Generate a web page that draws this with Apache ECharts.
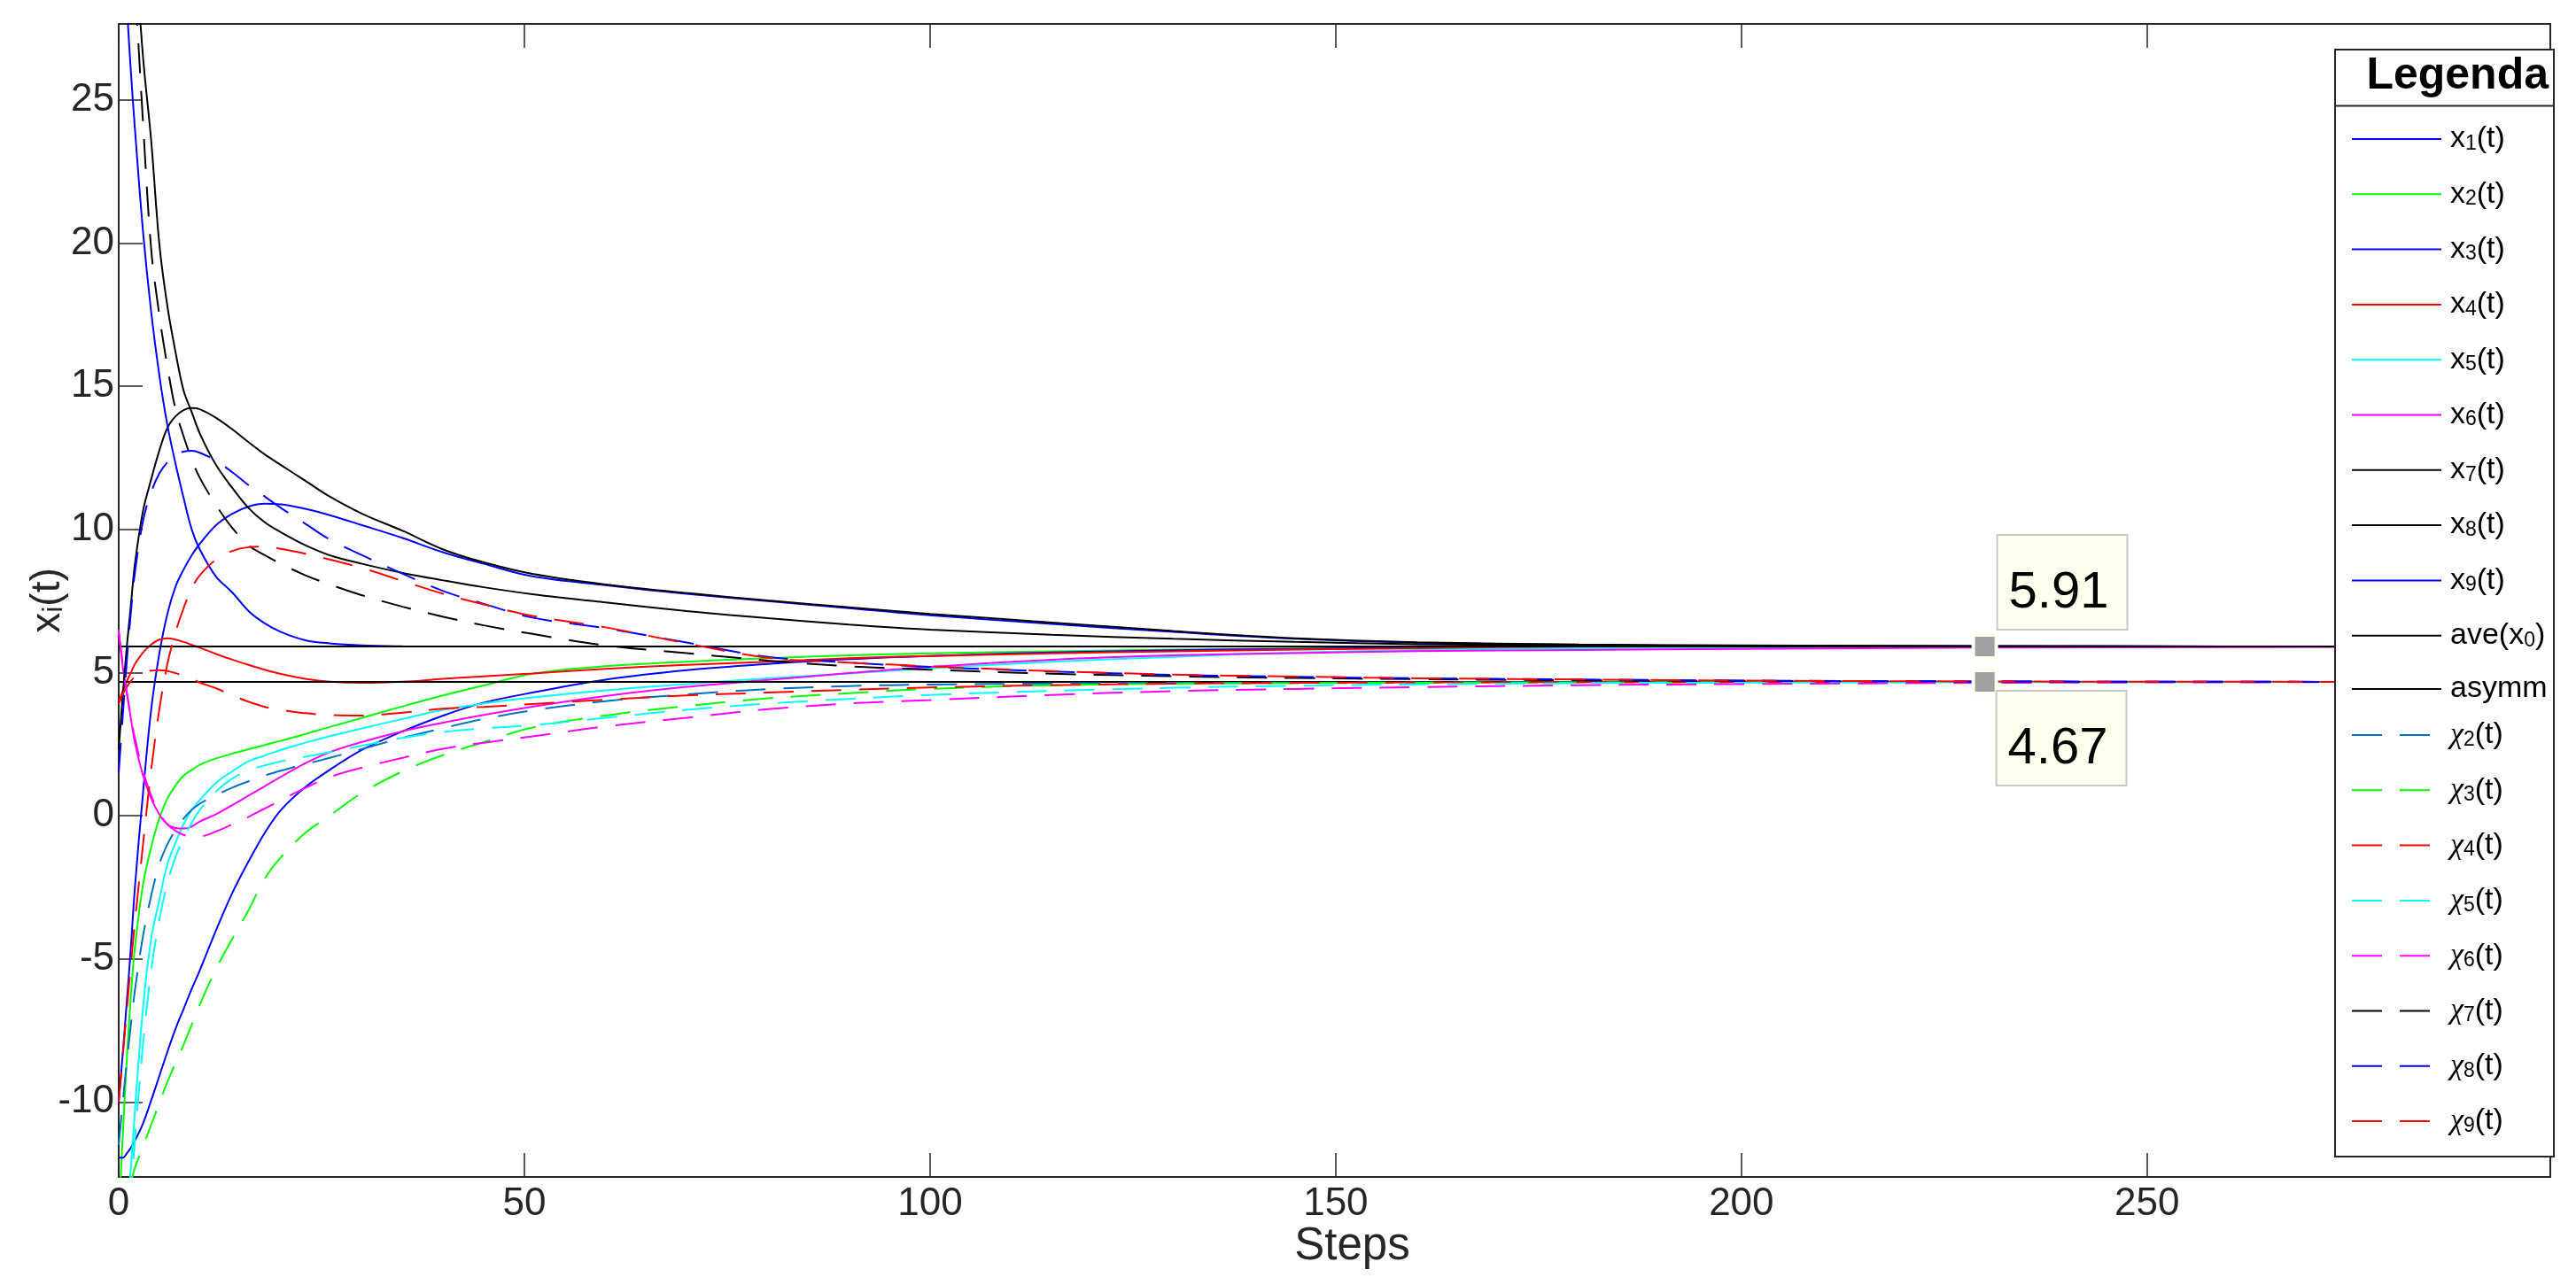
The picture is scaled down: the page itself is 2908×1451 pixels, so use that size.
<!DOCTYPE html>
<html>
<head>
<meta charset="utf-8">
<title>x_i(t) vs Steps</title>
<script src="https://cdn.jsdelivr.net/npm/echarts@6/dist/echarts.min.js"></script>
<style>
  html, body { margin: 0; padding: 0; background: #fff; }
  #chart { width: 2908px; height: 1451px; }
</style>
</head>
<body>
<div id="chart"></div>
<script>
// axis ranges
const xMin = 0, xMax = 299.7, xStep = 50;
const yMin = -12.62, yMax = 27.66, yStep = 5;

// sample steps shared by every trajectory
const steps = [0, 0.5, 1, 1.5, 2, 3, 4, 5, 6, 7, 8, 9, 10, 12, 14, 16, 18, 20, 23, 26, 30, 35, 40, 45, 51,
  60, 70, 80, 90, 100, 115, 130, 145, 160, 180, 200, 230, 260, 299];

// solid trajectories x1..x9 (converge on ave(x0))
const x1 = [-10.0, -8.3, -6.5, -4.6, -2.5, 0.8, 3.7, 5.65, 7.05, 8.0, 8.6, 9.1, 9.5, 10.15, 10.55, 10.8, 10.9, 10.88, 10.72, 10.5, 10.15, 9.7, 9.2, 8.8, 8.36,
  8.05, 7.75, 7.5, 7.25, 7.0, 6.7, 6.42, 6.18, 6.04, 5.97, 5.94, 5.92, 5.915, 5.91];
const x2 = [-14, -11.2, -8.5, -6.3, -4.6, -2.4, -1.1, -0.1, 0.6, 1.05, 1.4, 1.6, 1.78, 2.0, 2.17, 2.32, 2.47, 2.62, 2.85, 3.1, 3.42, 3.82, 4.2, 4.55, 4.96,
  5.22, 5.38, 5.5, 5.6, 5.67, 5.74, 5.8, 5.84, 5.87, 5.89, 5.9, 5.91, 5.91, 5.91];
const x3 = [-11.95, -11.95, -11.8, -11.6, -11.35, -10.75, -9.95, -9.1, -8.25, -7.45, -6.75, -6.05, -5.4, -4.0, -2.7, -1.6, -0.6, 0.2, 1.0, 1.6, 2.3, 2.95, 3.5, 3.95, 4.3,
  4.75, 5.08, 5.3, 5.47, 5.58, 5.7, 5.78, 5.83, 5.86, 5.89, 5.9, 5.91, 5.91, 5.91];
const x4 = [4.0, 4.35, 4.7, 5.0, 5.3, 5.7, 5.98, 6.15, 6.2, 6.15, 6.07, 5.97, 5.87, 5.65, 5.45, 5.27, 5.1, 4.95, 4.78, 4.68, 4.64, 4.68, 4.78, 4.87, 4.97,
  5.13, 5.27, 5.38, 5.5, 5.58, 5.67, 5.74, 5.8, 5.84, 5.87, 5.89, 5.9, 5.91, 5.91];
const x5 = [-20, -17, -14, -12.3, -10.3, -6.7, -4.3, -2.95, -1.7, -0.95, -0.3, 0.2, 0.55, 1.15, 1.55, 1.9, 2.1, 2.3, 2.55, 2.78, 3.05, 3.38, 3.7, 3.92, 4.13,
  4.38, 4.6, 4.8, 4.97, 5.15, 5.38, 5.55, 5.7, 5.79, 5.85, 5.88, 5.9, 5.91, 5.91];
const x6 = [6.5, 5.2, 4.3, 3.4, 2.55, 1.4, 0.6, 0.05, -0.3, -0.43, -0.45, -0.38, -0.2, 0.05, 0.37, 0.7, 1.03, 1.36, 1.83, 2.22, 2.58, 2.95, 3.25, 3.52, 3.81,
  4.18, 4.5, 4.74, 4.98, 5.2, 5.45, 5.6, 5.68, 5.75, 5.79, 5.83, 5.87, 5.89, 5.9];
const x7 = [2.3, 4.2, 5.9, 7.35, 8.8, 10.65, 11.75, 12.75, 13.55, 13.95, 14.17, 14.24, 14.2, 13.9, 13.5, 13.05, 12.62, 12.25, 11.7, 11.15, 10.55, 9.95, 9.3, 8.85, 8.45,
  8.08, 7.78, 7.52, 7.28, 7.05, 6.75, 6.45, 6.2, 6.06, 5.98, 5.95, 5.925, 5.915, 5.91];
const x8 = [50, 42, 37, 33, 30.5, 26.5, 23.6, 20.0, 17.8, 16.2, 14.85, 14.1, 13.35, 12.25, 11.45, 10.75, 10.25, 9.9, 9.45, 9.1, 8.8, 8.48, 8.22, 7.98, 7.74,
  7.45, 7.15, 6.9, 6.68, 6.5, 6.32, 6.18, 6.07, 5.99, 5.95, 5.93, 5.92, 5.915, 5.91];
const x9 = [38, 32, 28.4, 26.0, 24.0, 20.4, 17.6, 15.4, 13.65, 12.3, 11.1, 10.0, 9.3, 8.35, 7.8, 7.15, 6.72, 6.42, 6.13, 6.02, 5.95, 5.92, 5.91, 5.91, 5.91,
  5.91, 5.91, 5.91, 5.91, 5.91, 5.91, 5.91, 5.91, 5.91, 5.91, 5.91, 5.91, 5.91, 5.91];

// dashed trajectories chi2..chi9 (converge on asymm)
const chi2 = [-11.5, -10, -8.6, -7.3, -6.1, -4.2, -2.8, -1.7, -1.0, -0.5, -0.1, 0.2, 0.42, 0.72, 0.98, 1.2, 1.4, 1.57, 1.8, 2.02, 2.33, 2.72, 3.06, 3.38, 3.68,
  4.0, 4.24, 4.42, 4.53, 4.58, 4.62, 4.64, 4.65, 4.66, 4.665, 4.67, 4.67, 4.67, 4.67];
const chi3 = [-14.5, -14, -13.4, -12.8, -12.3, -11.55, -10.8, -10.05, -9.3, -8.65, -8.0, -7.3, -6.6, -5.35, -4.3, -3.3, -2.2, -1.45, -0.6, 0.0, 0.8, 1.55, 2.12, 2.57, 3.08,
  3.5, 3.83, 4.1, 4.28, 4.43, 4.56, 4.61, 4.63, 4.645, 4.655, 4.665, 4.67, 4.67, 4.67];
const chi4 = [3.9, 4.25, 4.5, 4.7, 4.85, 5.0, 5.07, 5.08, 5.05, 4.98, 4.9, 4.8, 4.65, 4.45, 4.2, 3.98, 3.8, 3.7, 3.58, 3.52, 3.5, 3.6, 3.74, 3.8, 3.9,
  4.05, 4.2, 4.3, 4.4, 4.48, 4.56, 4.61, 4.64, 4.655, 4.665, 4.67, 4.67, 4.67, 4.67];
const chi5 = [-22, -19, -16, -13.5, -11.3, -8.0, -5.4, -3.65, -2.35, -1.45, -0.8, -0.25, 0.2, 0.85, 1.3, 1.58, 1.76, 1.9, 2.06, 2.22, 2.45, 2.72, 2.92, 3.05, 3.16,
  3.42, 3.7, 3.92, 4.08, 4.22, 4.36, 4.47, 4.54, 4.59, 4.63, 4.65, 4.665, 4.67, 4.67];
const chi6 = [6.4, 5.3, 4.3, 3.45, 2.7, 1.55, 0.7, 0.1, -0.3, -0.53, -0.67, -0.72, -0.72, -0.55, -0.3, -0.04, 0.25, 0.54, 0.97, 1.35, 1.68, 2.02, 2.34, 2.55, 2.77,
  3.12, 3.42, 3.72, 3.92, 4.04, 4.22, 4.35, 4.43, 4.49, 4.56, 4.6, 4.64, 4.66, 4.67];
const chi7 = [42, 37, 33.5, 30.8, 29.0, 24.2, 19.8, 17.5, 15.7, 14.2, 13.25, 12.45, 11.8, 10.85, 10.05, 9.45, 9.1, 8.8, 8.4, 8.08, 7.7, 7.3, 6.95, 6.65, 6.35,
  5.95, 5.68, 5.42, 5.22, 5.1, 4.96, 4.87, 4.81, 4.77, 4.73, 4.71, 4.69, 4.68, 4.67];
const chi8 = [1.5, 3.5, 5.4, 7.1, 8.5, 10.3, 11.3, 11.95, 12.35, 12.6, 12.72, 12.75, 12.68, 12.4, 12.0, 11.55, 11.15, 10.75, 10.2, 9.65, 9.1, 8.45, 7.85, 7.4, 6.92,
  6.55, 6.05, 5.55, 5.35, 5.2, 5.04, 4.92, 4.85, 4.8, 4.76, 4.72, 4.69, 4.68, 4.67];
const chi9 = [-10, -8.4, -6.8, -5.2, -3.7, -1.0, 1.6, 3.7, 5.3, 6.4, 7.25, 7.95, 8.4, 8.95, 9.25, 9.38, 9.4, 9.32, 9.15, 8.95, 8.65, 8.2, 7.75, 7.38, 6.98,
  6.58, 6.02, 5.52, 5.35, 5.22, 5.05, 4.93, 4.86, 4.8, 4.76, 4.72, 4.69, 4.68, 4.67];

// the two limits and the data tips on them
const aveValue = 5.91;
const asymmValue = 4.67;
const tipStep = 230;

const FONT = '"Liberation Sans", Arial, Helvetica, sans-serif';
const AXIS = '#262626';
const DASH = [34, 20];

const defs = [
  { name: 'x1(t)', values: x1, color: '#0000ff' },
  { name: 'x2(t)', values: x2, color: '#00ff00' },
  { name: 'x3(t)', values: x3, color: '#0000ff' },
  { name: 'x4(t)', values: x4, color: '#ff0000' },
  { name: 'x5(t)', values: x5, color: '#00ffff' },
  { name: 'x6(t)', values: x6, color: '#ff00ff' },
  { name: 'x7(t)', values: x7, color: '#000000' },
  { name: 'x8(t)', values: x8, color: '#000000' },
  { name: 'x9(t)', values: x9, color: '#0000ff' },
  { name: 'ave(x0)', level: aveValue, color: '#000000' },
  { name: 'asymm', level: asymmValue, color: '#000000' },
  { name: 'χ2(t)', values: chi2, color: '#0072bd', dashed: true },
  { name: 'χ3(t)', values: chi3, color: '#00ff00', dashed: true },
  { name: 'χ4(t)', values: chi4, color: '#ff0000', dashed: true },
  { name: 'χ5(t)', values: chi5, color: '#00ffff', dashed: true },
  { name: 'χ6(t)', values: chi6, color: '#ff00ff', dashed: true },
  { name: 'χ7(t)', values: chi7, color: '#000000', dashed: true },
  { name: 'χ8(t)', values: chi8, color: '#0000ff', dashed: true },
  { name: 'χ9(t)', values: chi9, color: '#ff0000', dashed: true }
];

const lineSeries = defs.map(d => ({
  name: d.name,
  type: 'line',
  data: d.values ? steps.map((s, i) => [s, d.values[i]]) : [[xMin, d.level], [xMax, d.level]],
  symbol: 'none',
  smooth: d.values ? 0.35 : false,
  color: d.color,
  lineStyle: { color: d.color, width: 2, type: d.dashed ? DASH : 'solid' },
  emphasis: { disabled: true },
  animation: false
}));

const tipSeries = {
  name: 'tips',
  type: 'scatter',
  silent: true,
  symbol: 'rect',
  symbolSize: 26,
  itemStyle: { color: '#a0a0a0', borderColor: '#fffff0', borderWidth: 4, opacity: 1 },
  label: {
    show: true,
    formatter: p => p.value[1].toFixed(2),
    fontSize: 58,
    lineHeight: 58,
    fontFamily: FONT,
    color: '#000',
    backgroundColor: '#ffffee',
    borderColor: '#c8c8c8',
    borderWidth: 2,
    padding: [36, 20, 11, 12],
    align: 'left',
    verticalAlign: 'top'
  },
  data: [
    { value: [tipStep, aveValue], label: { position: [30, -110] } },
    { value: [tipStep, asymmValue], label: { position: [29, 26] } }
  ],
  z: 6
};

// legend labels with subscripts
const legendRich = {
  n: { fontSize: 34, lineHeight: 34, fontFamily: FONT, color: '#000' },
  c: { fontSize: 34, lineHeight: 34, fontFamily: '"Liberation Serif", "DejaVu Serif", serif', fontStyle: 'italic', color: '#000' },
  s: { fontSize: 23, lineHeight: 12, verticalAlign: 'bottom', fontFamily: FONT, color: '#000' }
};
function legendLabel(name) {
  if (name === 'asymm') return '{n|asymm}';
  if (name === 'ave(x0)') return '{n|ave(x}{s|0}{n|)}';
  const m = name.match(/^(x|χ)(\d)\(t\)$/);
  return (m[1] === 'χ' ? '{c|χ}' : '{n|x}') + '{s|' + m[2] + '}{n|(t)}';
}
const legendGroups = [
  { names: defs.slice(0, 10).map(d => d.name), top: 140 },
  { names: ['asymm'], top: 761 },
  { names: defs.slice(11).map(d => d.name), top: 813 }
];
const legends = legendGroups.map(g => ({
  data: g.names,
  orient: 'vertical',
  left: 2654,
  top: g.top,
  padding: 0,
  itemWidth: 101,
  itemHeight: 34,
  itemGap: 28.3,
  formatter: legendLabel,
  itemStyle: { color: 'rgba(0,0,0,0)', borderColor: 'rgba(0,0,0,0)', borderWidth: 0, opacity: 0 },
  textStyle: { rich: legendRich, padding: [0, 0, 0, 5] },
  z: 8
}));

const tickFmt = step => v => (Math.abs(v / step - Math.round(v / step)) < 1e-6 ? String(Math.round(v)) : '');

const chart = echarts.init(document.getElementById('chart'));
chart.setOption({
  animation: false,
  backgroundColor: '#fff',
  textStyle: { fontFamily: FONT },
  grid: { left: 134, right: 29, top: 27, bottom: 122, containLabel: false, outerBoundsMode: 'none' },
  legend: legends,
  xAxis: [
    {
      type: 'value', min: xMin, max: xMax, interval: xStep,
      axisLine: { onZero: false, lineStyle: { color: AXIS, width: 2 } },
      axisTick: { inside: true, length: 27, lineStyle: { color: AXIS, width: 1.5 } },
      axisLabel: { fontSize: 44, color: AXIS, fontFamily: FONT, margin: 9, formatter: tickFmt(xStep) },
      splitLine: { show: false },
      name: 'Steps', nameLocation: 'middle', nameGap: 53, nameMoveOverlap: false,
      nameTextStyle: { fontSize: 51, color: AXIS, fontFamily: FONT, padding: [0, 0, 0, 40] }
    },
    {
      type: 'value', position: 'top', min: xMin, max: xMax, interval: xStep,
      axisLine: { onZero: false, lineStyle: { color: AXIS, width: 2 } },
      axisTick: { inside: true, length: 27, lineStyle: { color: AXIS, width: 1.5 } },
      axisLabel: { show: false },
      splitLine: { show: false }
    }
  ],
  yAxis: [
    {
      type: 'value', min: yMin, max: yMax, minInterval: yStep, maxInterval: yStep,
      axisLine: { onZero: false, lineStyle: { color: AXIS, width: 2 } },
      axisTick: { inside: true, length: 27, lineStyle: { color: AXIS, width: 1.5 } },
      axisLabel: { fontSize: 44, color: AXIS, fontFamily: FONT, margin: 5, formatter: tickFmt(yStep) },
      splitLine: { show: false },
      name: '{n|x}{s|i}{n|(t)}', nameLocation: 'middle', nameRotate: 90, nameGap: 57, nameMoveOverlap: false,
      nameTextStyle: {
        color: AXIS,
        rich: {
          n: { fontSize: 46, lineHeight: 46, fontFamily: FONT, color: AXIS },
          s: { fontSize: 32, lineHeight: 16, verticalAlign: 'bottom', fontFamily: FONT, color: AXIS }
        }
      }
    },
    {
      type: 'value', position: 'right', min: yMin, max: yMax, minInterval: yStep, maxInterval: yStep,
      axisLine: { onZero: false, lineStyle: { color: AXIS, width: 2 } },
      axisTick: { inside: true, length: 27, lineStyle: { color: AXIS, width: 1.5 } },
      axisLabel: { show: false },
      splitLine: { show: false }
    }
  ],
  graphic: [
    {
      type: 'rect', z: 7,
      shape: { x: 2636, y: 56, width: 247, height: 1250 },
      style: { fill: '#fff', stroke: AXIS, lineWidth: 2 }
    },
    {
      type: 'line', z: 9,
      shape: { x1: 2636, y1: 119.5, x2: 2883, y2: 119.5 },
      style: { stroke: AXIS, lineWidth: 2 }
    },
    {
      type: 'text', z: 9, x: 2877, y: 86,
      style: {
        text: 'Legenda', fill: '#000', font: 'bold 50px ' + FONT,
        align: 'right', verticalAlign: 'middle', textAlign: 'right', textVerticalAlign: 'middle'
      }
    }
  ],
  series: lineSeries.concat([tipSeries])
});
</script>
</body>
</html>
